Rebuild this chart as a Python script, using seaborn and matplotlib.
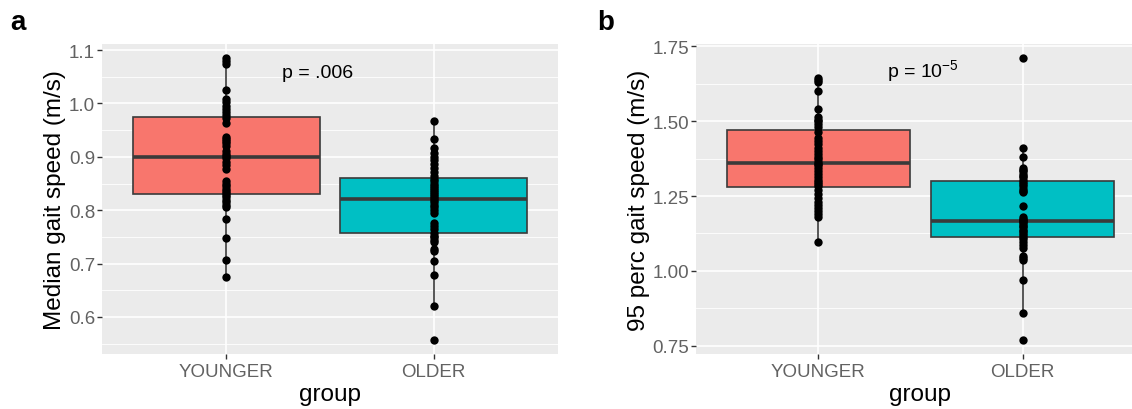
import numpy as np
import pandas as pd
import matplotlib
matplotlib.use("Agg")
import matplotlib.pyplot as plt
import seaborn as sns

# ---------------- data ----------------
groups = ["YOUNGER", "OLDER"]
box_colors = ["#F8766D", "#00BFC4"]

median_younger = [0.675, 0.707, 0.748, 0.783, 0.806, 0.810, 0.815, 0.820, 0.824, 0.828,
                  0.832, 0.836, 0.840, 0.845, 0.850, 0.855, 0.878, 0.885, 0.890, 0.897,
                  0.902, 0.906, 0.910, 0.920, 0.925, 0.930, 0.934, 0.938, 0.963, 0.973,
                  0.978, 0.984, 0.990, 0.996, 1.002, 1.008, 1.025, 1.073, 1.080, 1.085]
median_older = [0.557, 0.620, 0.679, 0.705, 0.724, 0.728, 0.740, 0.744, 0.750, 0.752,
                0.758, 0.765, 0.770, 0.776, 0.795, 0.800, 0.806, 0.810, 0.815, 0.819,
                0.822, 0.826, 0.830, 0.834, 0.838, 0.842, 0.846, 0.850, 0.854, 0.858,
                0.864, 0.872, 0.880, 0.887, 0.894, 0.900, 0.908, 0.916, 0.933, 0.968]

p95_younger = [1.097, 1.180, 1.190, 1.200, 1.210, 1.220, 1.230, 1.245, 1.258, 1.270,
               1.282, 1.290, 1.298, 1.305, 1.315, 1.325, 1.335, 1.345, 1.352, 1.358,
               1.364, 1.372, 1.380, 1.390, 1.400, 1.410, 1.425, 1.435, 1.445, 1.465,
               1.480, 1.490, 1.500, 1.505, 1.512, 1.540, 1.600, 1.630, 1.637, 1.643]
p95_older = [0.770, 0.859, 0.970, 1.035, 1.042, 1.050, 1.078, 1.086, 1.096, 1.106,
             1.114, 1.120, 1.126, 1.132, 1.138, 1.145, 1.150, 1.156, 1.162, 1.165,
             1.169, 1.174, 1.180, 1.217, 1.262, 1.268, 1.275, 1.283, 1.290, 1.298,
             1.305, 1.312, 1.318, 1.325, 1.332, 1.338, 1.342, 1.381, 1.411, 1.710]

left_ticks = [0.6, 0.7, 0.8, 0.9, 1.0, 1.1]
left_minor = [0.55, 0.65, 0.75, 0.85, 0.95, 1.05]
right_ticks = [0.75, 1.00, 1.25, 1.50, 1.75]
right_minor = [0.875, 1.125, 1.375, 1.625]

# ---------------- style ----------------
plt.rcParams["font.family"] = ["Liberation Sans", "DejaVu Sans"]
plt.rcParams["mathtext.fontset"] = "custom"
plt.rcParams["mathtext.rm"] = "Liberation Sans"
plt.rcParams["mathtext.it"] = "Liberation Sans:italic"

fig = plt.figure(figsize=(11.32, 4.10), dpi=100)
W, H = 1132, 410
ax1 = fig.add_axes([102 / W, 55 / H, 456 / W, 310 / H])
ax2 = fig.add_axes([696 / W, 55 / H, 449 / W, 310 / H])


def make_df(young, old):
    return pd.DataFrame({
        "group": ["YOUNGER"] * len(young) + ["OLDER"] * len(old),
        "value": list(young) + list(old),
    })


def draw(ax, df, ylabel, ticks, minor, tickfmt):
    sns.boxplot(data=df, x="group", y="value", hue="group", order=groups,
                hue_order=groups, palette=box_colors, saturation=1, width=0.9,
                whis=1.5, showfliers=False, showcaps=False, linecolor="#3a3a3a",
                linewidth=1.2, medianprops={"linewidth": 2.6}, legend=False, ax=ax)
    sns.stripplot(data=df, x="group", y="value", order=groups, color="black",
                  size=6, jitter=False, linewidth=0, zorder=4, ax=ax)
    vals = df["value"].to_numpy()
    rng = vals.max() - vals.min()
    ax.set_ylim(vals.min() - 0.05 * rng, vals.max() + 0.05 * rng)
    ax.set_xlim(-0.6, 1.6)
    ax.set_facecolor("#EBEBEB")
    for s in ax.spines.values():
        s.set_visible(False)
    ax.set_yticks(ticks)
    ax.set_yticklabels([tickfmt.format(t) for t in ticks])
    ax.set_yticks(minor, minor=True)
    ax.set_axisbelow(True)
    ax.grid(which="major", axis="both", color="white", linewidth=1.2)
    ax.grid(which="minor", axis="y", color="white", linewidth=0.6)
    ax.tick_params(which="major", length=3.5, width=1.0, color="#333333",
                   labelcolor="#626262", labelsize=13.5, pad=1.5)
    ax.tick_params(axis="x", pad=3)
    ax.tick_params(which="minor", length=0)
    ax.set_ylabel(ylabel, fontsize=17.5, labelpad=2, color="black")
    ax.set_xlabel("group", fontsize=17.5, labelpad=2, color="black")


draw(ax1, make_df(median_younger, median_older), "Median gait speed (m/s)",
     left_ticks, left_minor, "{:.1f}")
draw(ax2, make_df(p95_younger, p95_older), "95 perc gait speed (m/s)",
     right_ticks, right_minor, "{:.2f}")

ax1.text(0.44, 1.058, "p = .006", fontsize=14, ha="center", va="center")
ax2.text(0.51, 1.669, r"p = 10$^{\mathregular{-5}}$", fontsize=14, ha="center", va="center")

fig.text(10 / W, 1 - 30.5 / H, "a", fontsize=20, fontweight="bold", va="baseline")
fig.text(597 / W, 1 - 30.5 / H, "b", fontsize=20, fontweight="bold", va="baseline")

fig.savefig("out.png", dpi=100)
